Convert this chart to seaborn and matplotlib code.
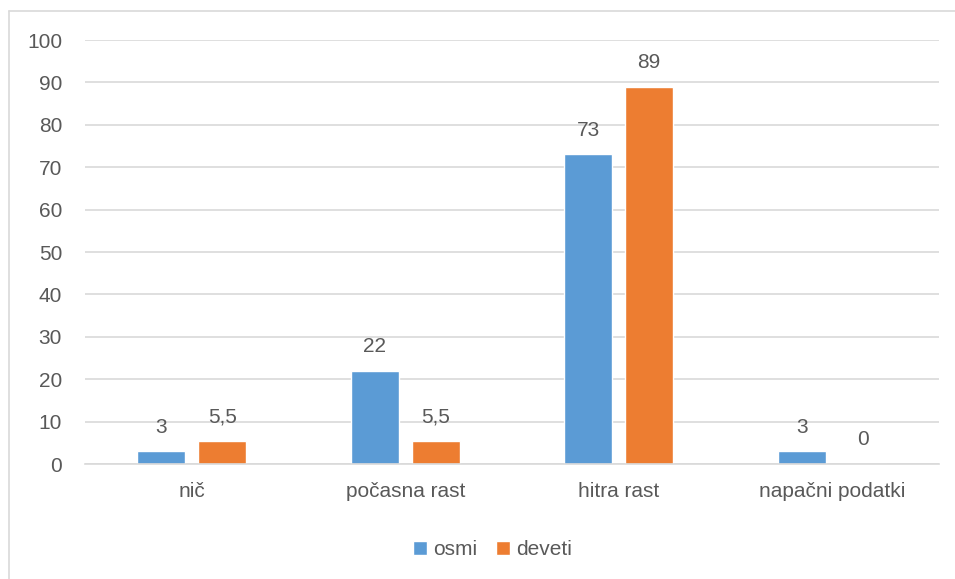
import matplotlib.pyplot as plt
import matplotlib.lines as mlines
import seaborn as sns
import pandas as pd

# values
categories = ['nič', 'počasna rast', 'hitra rast', 'napačni podatki']
osmi = [3, 22, 73, 3]
deveti = [5.5, 5.5, 89, 0]
series_names = ['osmi', 'deveti']

df = pd.DataFrame({
    'kategorija': categories * 2,
    'vrednost': osmi + deveti,
    'razred': [series_names[0]] * len(categories) + [series_names[1]] * len(categories),
})

sns.set_style('white')
plt.rcParams['font.family'] = ['Liberation Sans', 'DejaVu Sans']
TXT = '#595959'
FS = 15

fig = plt.figure(figsize=(9.55, 5.79), dpi=100)
ax = fig.add_axes([85 / 955, 1 - 464 / 579, (939 - 85) / 955, (464 - 40) / 579])

sns.barplot(data=df, x='kategorija', y='vrednost', hue='razred', order=categories,
            hue_order=series_names, palette=['#5B9BD5', '#ED7D31'],
            width=0.571, gap=0.21, ax=ax, legend=True, saturation=1)

ax.set_ylim(0, 100)
ax.set_yticks(range(0, 101, 10))
ax.set_xlabel('')
ax.set_ylabel('')
ax.grid(axis='y', color='#D9D9D9', linewidth=1.2)
ax.set_axisbelow(True)
for s in ['top', 'right', 'left']:
    ax.spines[s].set_visible(False)
ax.spines['bottom'].set_color('#D9D9D9')
ax.spines['bottom'].set_linewidth(1.2)
ax.tick_params(axis='both', length=0, labelsize=FS, colors=TXT)
ax.tick_params(axis='y', pad=16.5)
ax.tick_params(axis='x', pad=13)

for cont in ax.containers:
    labels = [f'{v:g}'.replace('.', ',') for v in cont.datavalues]
    ax.bar_label(cont, labels=labels, padding=10.5, fontsize=FS, color=TXT)

ax.legend(loc='upper center', bbox_to_anchor=(0.477, -0.135), ncol=2, frameon=False,
          fontsize=FS, labelcolor=TXT, handlelength=0.67, handleheight=0.67,
          handletextpad=0.3, columnspacing=0.87)

# chart area frame
fig.add_artist(mlines.Line2D([8.5 / 955, 8.5 / 955], [0, 1 - 11 / 579],
                             color='#D9D9D9', linewidth=1.2))
fig.add_artist(mlines.Line2D([8.5 / 955, 1], [1 - 11 / 579, 1 - 11 / 579],
                             color='#D9D9D9', linewidth=1.2))

fig.savefig('out.png', dpi=100)
